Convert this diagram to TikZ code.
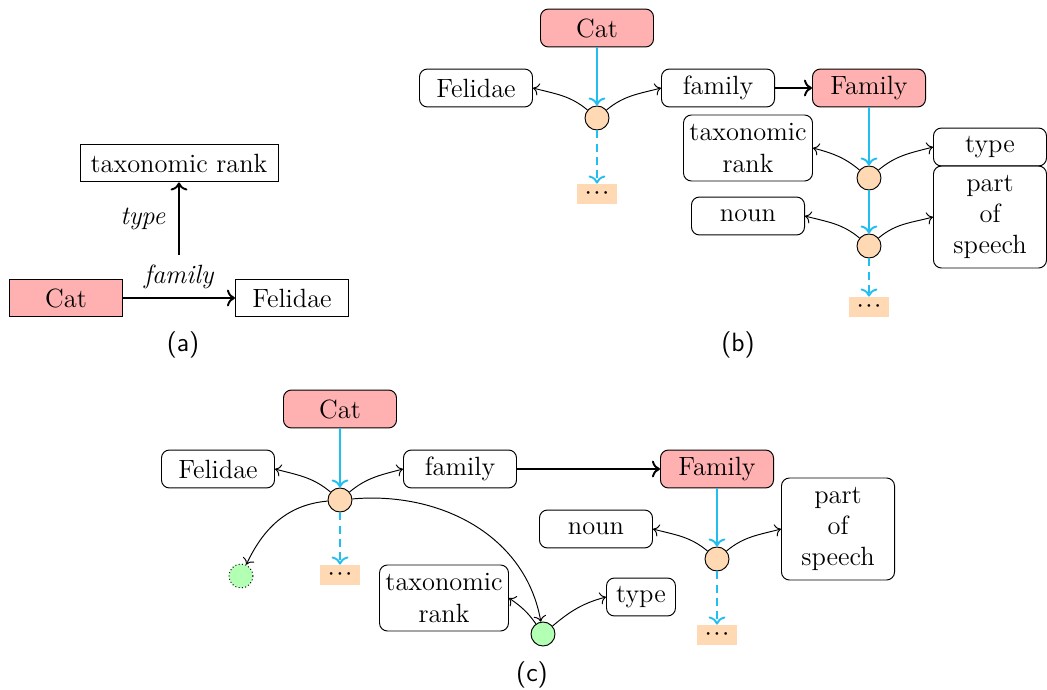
\documentclass[tikz,border=0pt]{standalone}
\usetikzlibrary{arrows.meta}
\definecolor{catpink}{RGB}{255,176,176}
\definecolor{hubor}{RGB}{255,217,179}
\definecolor{hubgr}{RGB}{179,255,179}
\definecolor{cyarr}{RGB}{35,190,240}
\newcommand{\tdots}{$\cdot\mkern-3mu\cdot\mkern-3mu\cdot$}
\begin{document}
\begin{tikzpicture}[x=0.4167pt,y=0.4167pt,
  font=\fontsize{11}{13}\selectfont,
  base/.style={draw, inner sep=0pt, align=center},
  box/.style={base, rounded corners=3.3pt, minimum width=47.1pt, minimum height=15.8pt},
  sbox/.style={base, minimum height=15.8pt},
  catfill/.style={fill=catpink},
  hub/.style={circle, draw, fill=hubor, minimum size=10pt, inner sep=0pt},
  ghub/.style={hub, fill=hubgr},
  more/.style={fill=hubor, minimum width=16.7pt, minimum height=8.3pt, inner sep=0pt},
  rel/.style={->, thin},
  cy/.style={->, draw=cyarr, line width=0.8pt},
  cyd/.style={cy, dash pattern=on 3.3pt off 2.2pt},
  bold/.style={->, line width=0.8pt},
  lbl/.style={font=\fontsize{11}{13}\selectfont\itshape},
  captext/.style={font=\fontsize{11}{13}\selectfont\sffamily}
]
\useasboundingbox (0,0) rectangle (1047,-690);

% (a)
\node[sbox, minimum width=82.5pt] (taxa) at (179,-163) {taxonomic rank};
\node[sbox, catfill, minimum width=46.7pt] (cata) at (66,-298) {Cat};
\node[sbox, minimum width=47.1pt] (fela) at (292,-298) {Felidae};
\coordinate (ta) at (179,-255);
\draw[bold] (cata) -- node[above, lbl] {family} (fela);
\draw[bold] (ta) -- node[left, lbl, xshift=-2pt] {type} (taxa);
\node[captext] (capa) at (183,-345) {(a)};

% (b)
\node[box, catfill] (catb) at (597,-28) {Cat};
\node[box] (felb) at (476,-88) {Felidae};
\node[box] (famb) at (718,-88) {family};
\node[box, catfill] (Famb) at (869,-88) {Family};
\node[hub] (h1) at (597,-118) {};
\node[more] (m1) at (597,-194) {\tdots};
\node[box, minimum width=53.75pt, minimum height=27.5pt] (taxb) at (748,-148) {taxonomic\\rank};
\node[box] (typeb) at (990,-147) {type};
\node[hub] (h2) at (869,-178) {};
\node[box] (nounb) at (748,-216) {noun};
\node[box, minimum height=42.5pt] (posb) at (990,-217) {part\\of\\speech};
\node[hub] (h3) at (869,-246) {};
\node[more] (m2) at (869,-307) {\tdots};
\draw[cy] (catb) -- (h1);
\draw[cyd] (h1) -- (m1);
\draw[rel] (h1) to[out=140,in=-15] (felb.east);
\draw[rel] (h1) to[out=40,in=195] (famb.west);
\draw[bold] (famb) -- (Famb);
\draw[cy] (Famb) -- (h2);
\draw[cy] (h2) -- (h3);
\draw[cyd] (h3) -- (m2);
\draw[rel] (h2) to[out=140,in=-15] (taxb.east);
\draw[rel] (h2) to[out=40,in=195] (typeb.west);
\draw[rel] (h3) to[out=140,in=-15] (nounb.east);
\draw[rel] (h3) to[out=40,in=195] (posb.west);
\node[captext] (capb) at (738,-345) {(b)};

% (c)
\node[box, catfill] (catc) at (340,-409) {Cat};
\node[box] (felc) at (218,-469) {Felidae};
\node[box] (famc) at (460,-469) {family};
\node[box, catfill] (Famc) at (717,-469) {Family};
\node[hub] (hc) at (340,-500) {};
\node[ghub, densely dotted] (gd) at (241,-576) {};
\node[more] (mc) at (340,-575) {\tdots};
\node[box, minimum width=53.75pt, minimum height=27.5pt] (taxc) at (444,-598) {taxonomic\\rank};
\node[ghub] (gc) at (543,-634) {};
\node[box, minimum width=28.75pt] (typec) at (641,-597) {type};
\node[box] (nounc) at (596,-529) {noun};
\node[hub] (hf) at (717,-559) {};
\node[box, minimum height=42.5pt] (posc) at (838,-529) {part\\of\\speech};
\node[more] (mf) at (717,-635) {\tdots};
\draw[cy] (catc) -- (hc);
\draw[cyd] (hc) -- (mc);
\draw[rel] (hc) to[out=140,in=-15] (felc.east);
\draw[rel] (hc) to[out=40,in=195] (famc.west);
\draw[bold] (famc) -- (Famc);
\draw[rel] (hc) to[out=185,in=65] (gd);
\draw[rel] (hc) to[out=5,in=100] (gc);
\draw[rel] (gc) to[out=125,in=-35] (taxc.east);
\draw[rel] (gc) to[out=40,in=195] (typec.west);
\draw[cy] (Famc) -- (hf);
\draw[cyd] (hf) -- (mf);
\draw[rel] (hf) to[out=140,in=-15] (nounc.east);
\draw[rel] (hf) to[out=40,in=195] (posc.west);
\node[captext] (capc) at (532,-675) {(c)};
\end{tikzpicture}
\end{document}
